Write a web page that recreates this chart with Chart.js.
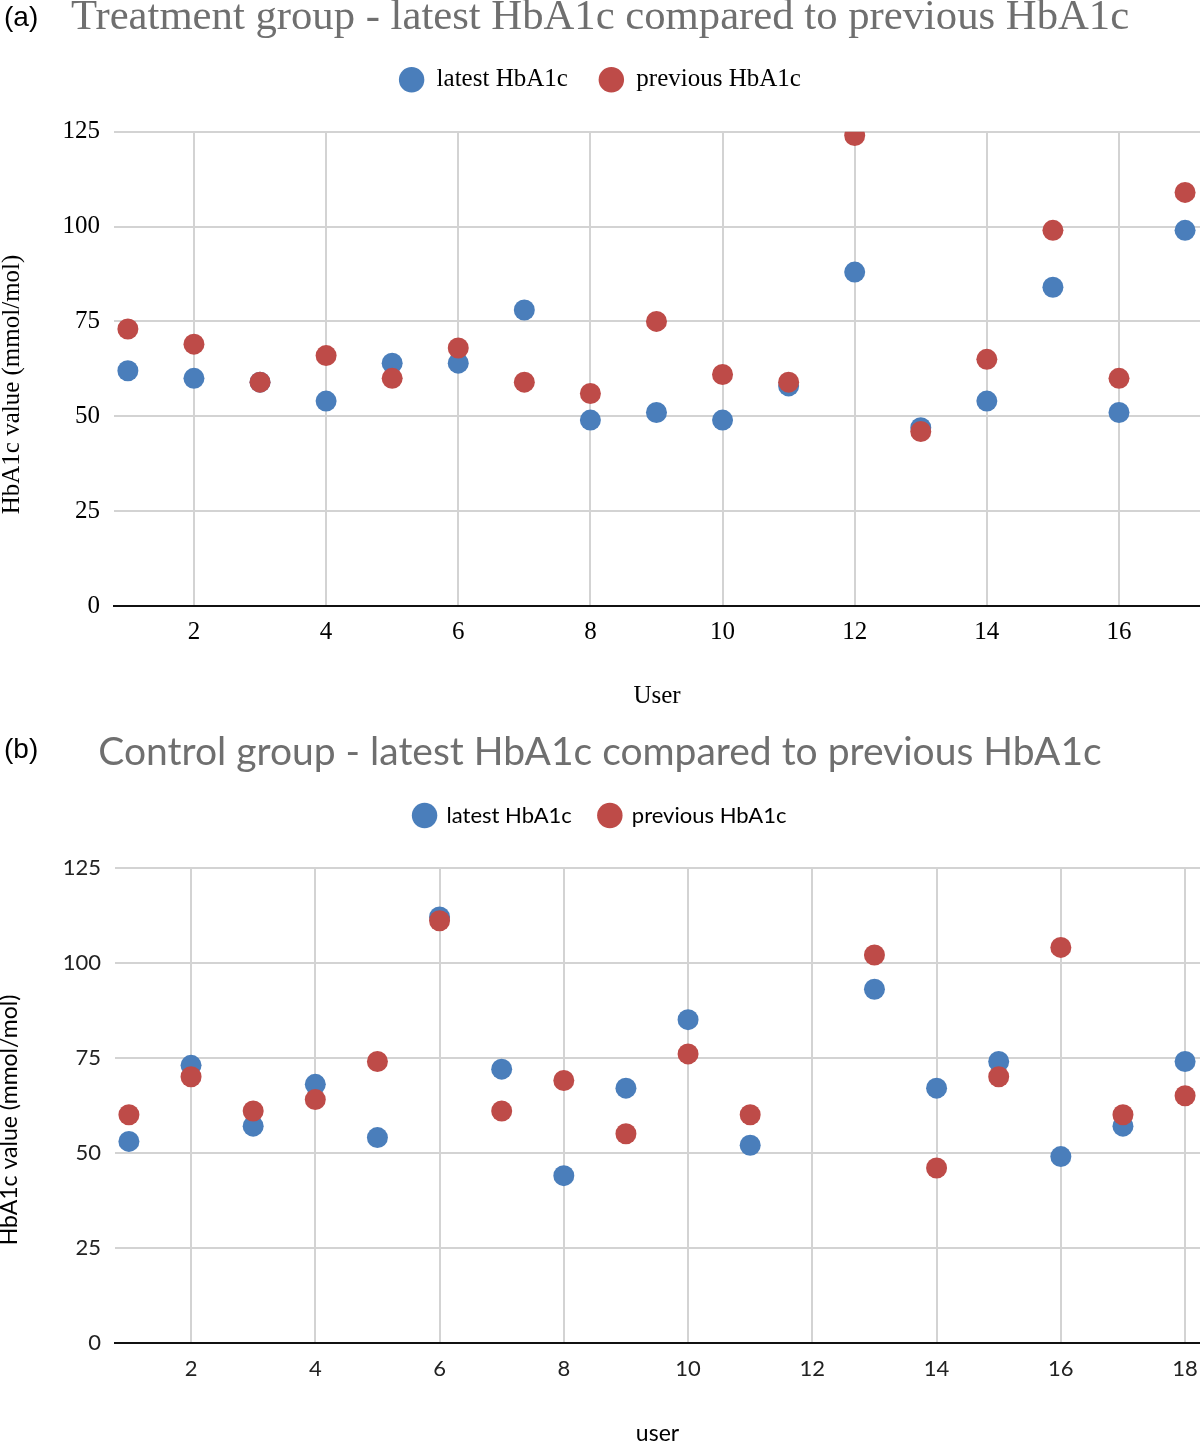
<!DOCTYPE html>
<html>
<head>
<meta charset="utf-8">
<script src="https://cdn.jsdelivr.net/npm/chart.js@4.4.0/dist/chart.umd.min.js"></script>
<style>
  html, body { margin: 0; padding: 0; background: #fff; overflow: hidden; }
  #page { position: relative; width: 1200px; height: 1441px; background: #fff; }
  canvas { position: absolute; left: 0; }
  #chartA { top: 0; }
  #chartB { top: 728px; }
  .tag { position: absolute; left: 4px; font-family: "Liberation Sans", Arial, sans-serif; font-size: 28px; line-height: 28px; color: #000; }
</style>
</head>
<body>
<div id="page">
  <canvas id="chartA" width="1200" height="720"></canvas>
  <canvas id="chartB" width="1200" height="713"></canvas>
  <div class="tag" style="top:3px">(a)</div>
  <div class="tag" style="top:735px">(b)</div>
</div>
<script>
// (a) treatment group
const usersA = [1, 2, 3, 4, 5, 6, 7, 8, 9, 10, 11, 12, 13, 14, 15, 16, 17]
const latestA = [62, 60, 59, 54, 64, 64, 78, 49, 51, 49, 58, 88, 47, 54, 84, 51, 99]
const previousA = [73, 69, 59, 66, 60, 68, 59, 56, 75, 61, 59, 124, 46, 65, 99, 60, 109]

// (b) control group, user 12 has no values
const usersB = [1, 2, 3, 4, 5, 6, 7, 8, 9, 10, 11, 12, 13, 14, 15, 16, 17, 18]
const latestB = [53, 73, 57, 68, 54, 112, 72, 44, 67, 85, 52, null, 93, 67, 74, 49, 57, 74]
const previousB = [60, 70, 61, 64, 74, 111, 61, 69, 55, 76, 60, null, 102, 46, 70, 104, 60, 65]

const xTicksA = [2, 4, 6, 8, 10, 12, 14, 16]
const xTicksB = [2, 4, 6, 8, 10, 12, 14, 16, 18]
const yTicks = [0, 25, 50, 75, 100, 125]

const BLUE = '#4a7ebb'
const RED = '#be4b48'
const GRID = '#d3d3d3'

function points(xs, ys) {
    return xs.map((x, i) => ({ x: x, y: ys[i] })).filter(p => p.y !== null)
}

// pushes the plot down below the legend
function legendGap(extra) {
    return {
        id: 'legendGap',
        beforeInit(chart) {
            const fit = chart.legend.fit
            chart.legend.fit = function () {
                fit.call(this)
                this.height += extra
            }
        }
    }
}

function makeConfig(s) {
    return {
        type: 'scatter',
        data: {
            datasets: [{
                    label: 'latest HbA1c',
                    data: points(s.users, s.latest),
                    backgroundColor: BLUE,
                    borderColor: BLUE,
                    clip: 0,
                    order: 1,
                },
                {
                    label: 'previous HbA1c',
                    data: points(s.users, s.previous),
                    backgroundColor: RED,
                    borderColor: RED,
                    clip: 0,
                    order: 0,
                },
            ],
        },
        options: {
            responsive: false,
            animation: false,
            layout: { padding: 0, autoPadding: false },
            elements: {
                point: { radius: 10.5, borderWidth: 0, hoverRadius: 10.5 },
            },
            plugins: {
                tooltip: { enabled: false },
                title: {
                    display: true,
                    text: s.title,
                    color: '#6f6f6f',
                    font: s.titleFont,
                    padding: { top: 0, bottom: 0 },
                },
                legend: {
                    display: true,
                    position: 'top',
                    labels: {
                        usePointStyle: true,
                        pointStyle: 'circle',
                        boxHeight: 18,
                        color: '#000',
                        font: s.legendFont,
                        padding: s.legendPad,
                        sort: (a, b) => a.datasetIndex - b.datasetIndex,
                    },
                },
            },
            scales: {
                x: {
                    type: 'linear',
                    min: s.xMin,
                    max: s.xMax,
                    afterBuildTicks: axis => { axis.ticks = s.xTicks.map(v => ({ value: v })) },
                    afterFit: axis => {
                        axis.height = s.xHeight
                        axis.paddingLeft = 0
                        axis.paddingRight = 0
                    },
                    grid: { color: GRID, lineWidth: 2, drawTicks: false },
                    border: { display: true, color: '#111', width: 2 },
                    ticks: { color: s.tickColor, font: s.tickFont, padding: s.xTickPad, maxRotation: 0 },
                    title: {
                        display: true,
                        text: s.xTitle,
                        color: '#000',
                        font: s.axisFont,
                        padding: { top: 0, bottom: s.xTitlePad },
                    },
                },
                y: {
                    min: 0,
                    max: 125,
                    afterBuildTicks: axis => { axis.ticks = yTicks.map(v => ({ value: v })) },
                    afterFit: axis => { axis.width = s.yWidth },
                    grid: { color: GRID, lineWidth: 2, drawTicks: false },
                    border: { display: false },
                    ticks: { color: s.tickColor, font: s.tickFont, padding: 14 },
                    title: {
                        display: true,
                        text: 'HbA1c value (mmol/mol)     ',
                        color: '#000',
                        font: s.axisFont,
                        padding: 0,
                    },
                },
            },
        },
        plugins: [legendGap(s.legendExtra)],
    }
}

const serif = '"Liberation Serif", "Times New Roman", serif'
const sans = 'Lato, "Open Sans", sans-serif'

const configA = makeConfig({
    users: usersA,
    latest: latestA,
    previous: previousA,
    title: 'Treatment group - latest HbA1c compared to previous HbA1c',
    titleFont: { family: serif, size: 42.7, weight: 'normal', lineHeight: 0.85 },
    legendFont: { family: serif, size: 25 },
    legendPad: 31,
    legendExtra: 29.4,
    tickFont: { family: serif, size: 25, lineHeight: 1 },
    tickColor: '#000',
    axisFont: { family: serif, size: 25, lineHeight: 1 },
    xTitle: 'User',
    xTitlePad: 11,
    xTickPad: 14,
    xMin: 0.79,
    xMax: 17.226,
    xTicks: xTicksA,
    xHeight: 114,
    yWidth: 114,
})

const configB = makeConfig({
    users: usersB,
    latest: latestB,
    previous: previousB,
    title: 'Control group - latest HbA1c compared to previous HbA1c',
    titleFont: { family: sans, size: 39, weight: 'normal', lineHeight: 1.27 },
    legendFont: { family: sans, size: 22 },
    legendPad: 27,
    legendExtra: 31,
    tickFont: { family: sans, size: 22, lineHeight: 1 },
    tickColor: '#222',
    axisFont: { family: sans, size: 23, lineHeight: 0.8 },
    xTitle: 'user',
    xTitlePad: -2,
    xTickPad: 15,
    xMin: 0.776,
    xMax: 18.24,
    xTicks: xTicksB,
    xHeight: 98,
    yWidth: 115,
})

window.chartA = new Chart(document.getElementById('chartA'), configA)
window.chartB = new Chart(document.getElementById('chartB'), configB)
</script>
</body>
</html>
